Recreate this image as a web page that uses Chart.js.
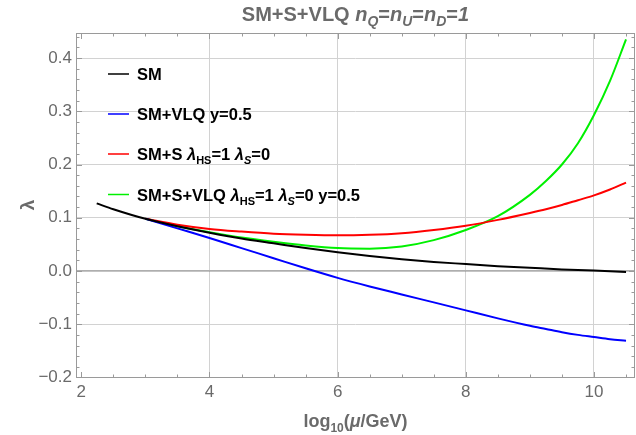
<!DOCTYPE html>
<html>
<head>
<meta charset="utf-8">
<script src="https://cdn.jsdelivr.net/npm/chart.js@4.4.0/dist/chart.umd.min.js"></script>
<style>
  html, body { margin: 0; padding: 0; background: #fff; }
  #wrap { width: 636px; height: 435px; }
</style>
</head>
<body>
<div id="wrap"><canvas id="lambda-chart" width="636" height="435"></canvas></div>
<script>
// running quartic coupling vs log10(mu/GeV)
const smX = [2.24, 2.5, 3, 3.5, 4, 4.5, 5, 5.5, 6, 6.5, 7, 7.5, 8, 8.5, 9, 9.5, 10, 10.5];
const smY = [0.127, 0.116, 0.098, 0.084, 0.072, 0.061, 0.052, 0.043, 0.035, 0.028, 0.022, 0.017, 0.013, 0.009, 0.006, 0.003, 0.001, -0.002];

const bsmX = [3, 3.5, 4, 4.5, 5, 5.5, 6, 6.5, 7, 7.5, 8, 8.5, 9, 9.25, 9.5, 9.75, 10, 10.25, 10.5];
const vlqY = [0.098, 0.080, 0.062, 0.043, 0.024, 0.005, -0.013, -0.029, -0.044, -0.059, -0.074, -0.089, -0.103, -0.109, -0.115, -0.120, -0.124, -0.128, -0.131];
const singletY = [0.098, 0.087, 0.079, 0.074, 0.070, 0.068, 0.067, 0.068, 0.071, 0.077, 0.085, 0.096, 0.109, 0.116, 0.124, 0.133, 0.142, 0.153, 0.166];
const fullY = [0.098, 0.084, 0.073, 0.063, 0.055, 0.048, 0.043, 0.042, 0.046, 0.058, 0.077, 0.103, 0.143, 0.169, 0.200, 0.240, 0.293, 0.357, 0.435];

const xTicks = [2, 4, 6, 8, 10];
const yTicks = [-0.2, -0.1, 0, 0.1, 0.2, 0.3, 0.4];

const FONT = '"Liberation Sans", Arial, Helvetica, sans-serif';
const GRAY = '#6a6a6a';

const legendItems = [
    { color: '#000000', parts: [{ t: 'SM' }] },
    { color: '#0000ff', parts: [{ t: 'SM+VLQ y=0.5' }] },
    { color: '#ff0000', parts: [{ t: 'SM+S ' }, { t: 'λ', it: true }, { t: 'HS', sub: true }, { t: '=1 ' }, { t: 'λ', it: true }, { t: 'S', sub: true, it: true }, { t: '=0' }] },
    { color: '#00f000', parts: [{ t: 'SM+S+VLQ ' }, { t: 'λ', it: true }, { t: 'HS', sub: true }, { t: '=1 ' }, { t: 'λ', it: true }, { t: 'S', sub: true, it: true }, { t: '=0 y=0.5' }] }
];

function toPoints(xs, ys) {
    return xs.map((x, i) => ({ x, y: ys[i] }));
}

function series(label, xs, ys, color) {
    return {
        label,
        data: toPoints(xs, ys),
        borderColor: color,
        borderWidth: 2,
        pointRadius: 0,
        fill: false,
        cubicInterpolationMode: 'monotone'
    };
}

// bold text with italic / subscript pieces, drawn left to right
function drawRich(ctx, parts, x, y, size, color, align, subScale = 0.7) {
    const fontFor = p => `${p.it ? 'italic ' : ''}bold ${p.sub ? Math.round(size * subScale) : size}px ${FONT}`;
    let w = 0;
    parts.forEach(p => { ctx.font = fontFor(p); w += ctx.measureText(p.t).width; });
    let cx = align === 'center' ? x - w / 2 : x;
    ctx.fillStyle = color;
    ctx.textAlign = 'left';
    ctx.textBaseline = 'alphabetic';
    parts.forEach(p => {
        ctx.font = fontFor(p);
        ctx.fillText(p.t, cx, y + (p.sub ? size * 0.25 : 0));
        cx += ctx.measureText(p.t).width;
    });
}

function tickValues(from, to, step) {
    const out = [];
    for (let v = from; v <= to + 1e-9; v += step) out.push(Math.round(v * 1000) / 1000);
    return out;
}

const framePlugin = {
    id: 'frame',
    beforeDatasetsDraw(chart) {
        const { ctx, chartArea: a, scales: { y } } = chart;
        const y0 = y.getPixelForValue(0);
        ctx.save();
        ctx.strokeStyle = '#8a8a8a';
        ctx.lineWidth = 1.2;
        ctx.beginPath();
        ctx.moveTo(a.left, y0);
        ctx.lineTo(a.right, y0);
        ctx.stroke();
        ctx.restore();
    },
    afterDraw(chart) {
        const { ctx, chartArea: a, scales: { x, y } } = chart;
        ctx.save();

        // frame
        ctx.strokeStyle = '#9a9a9a';
        ctx.lineWidth = 1;
        ctx.strokeRect(a.left + 0.5, a.top + 0.5, a.right - a.left - 1, a.bottom - a.top - 1);

        // inward ticks on all four sides
        ctx.beginPath();
        tickValues(2, 10.5, 0.5).forEach(v => {
            const px = Math.round(x.getPixelForValue(v)) + 0.5;
            const len = xTicks.includes(v) ? 6 : 3.5;
            ctx.moveTo(px, a.bottom); ctx.lineTo(px, a.bottom - len);
            ctx.moveTo(px, a.top); ctx.lineTo(px, a.top + len);
        });
        tickValues(-0.2, 0.44, 0.02).forEach(v => {
            const py = Math.round(y.getPixelForValue(v)) + 0.5;
            const major = yTicks.some(t => Math.abs(t - v) < 1e-6);
            const len = major ? 6 : 3.5;
            ctx.moveTo(a.left, py); ctx.lineTo(a.left + len, py);
            ctx.moveTo(a.right, py); ctx.lineTo(a.right - len, py);
        });
        ctx.stroke();

        // title
        drawRich(ctx, [
            { t: 'SM+S+VLQ ' }, { t: 'n', it: true }, { t: 'Q', sub: true, it: true }, { t: '=' },
            { t: 'n', it: true }, { t: 'U', sub: true, it: true }, { t: '=' },
            { t: 'n', it: true }, { t: 'D', sub: true, it: true }, { t: '=' }, { t: '1', it: true }
        ], (a.left + a.right) / 2, 21, 20, GRAY, 'center', 0.72);

        // axis titles
        drawRich(ctx, [{ t: 'log' }, { t: '10', sub: true }, { t: '(' }, { t: 'μ', it: true }, { t: '/GeV)' }],
            (a.left + a.right) / 2, 427, 18, GRAY, 'center', 0.65);
        ctx.save();
        ctx.translate(34, 205);
        ctx.rotate(-Math.PI / 2);
        drawRich(ctx, [{ t: 'λ' }], 0, 0, 19, GRAY, 'center');
        ctx.restore();

        // legend
        const rows = [80, 120, 160, 200.5];
        legendItems.forEach((item, i) => {
            const ly = rows[i] - 6;
            ctx.strokeStyle = item.color;
            ctx.lineWidth = 1.5;
            ctx.beginPath();
            ctx.moveTo(108, ly);
            ctx.lineTo(129, ly);
            ctx.stroke();
            drawRich(ctx, item.parts, 137, rows[i], 16.5, '#000000', 'left', 0.64);
        });

        ctx.restore();
    }
};

const canvas = document.getElementById('lambda-chart');
new Chart(canvas, {
    type: 'line',
    data: {
        datasets: [
            series('SM', smX, smY, '#000000'),
            series('SM+VLQ', bsmX, vlqY, '#0000ff'),
            series('SM+S', bsmX, singletY, '#ff0000'),
            series('SM+S+VLQ', bsmX, fullY, '#00f000')
        ]
    },
    options: {
        responsive: false,
        animation: false,
        layout: { padding: { top: 33, right: 1, left: 0, bottom: 0 } },
        plugins: {
            legend: { display: false },
            tooltip: { enabled: false }
        },
        scales: {
            x: {
                type: 'linear',
                min: 1.917,
                max: 10.64,
                afterBuildTicks: s => { s.ticks = xTicks.map(v => ({ value: v })); },
                afterFit: s => { s.height = 57; },
                border: { display: false },
                grid: {
                    drawTicks: false,
                    color: c => (c.tick && c.tick.value === 2 ? 'rgba(0,0,0,0)' : '#d2d2d2')
                },
                ticks: {
                    padding: 4,
                    color: GRAY,
                    font: { family: FONT, size: 17 },
                    callback: v => String(v)
                }
            },
            y: {
                min: -0.201,
                max: 0.447,
                afterBuildTicks: s => { s.ticks = yTicks.map(v => ({ value: v })); },
                afterFit: s => { s.width = 76; },
                border: { display: false },
                grid: { drawTicks: false, color: '#d2d2d2' },
                ticks: {
                    padding: 4,
                    color: GRAY,
                    font: { family: FONT, size: 17 },
                    callback: v => (Math.abs(v) < 1e-9 ? '0.0' : v.toFixed(1).replace('-', '\u2212'))
                }
            }
        }
    },
    plugins: [framePlugin]
});
</script>
</body>
</html>
